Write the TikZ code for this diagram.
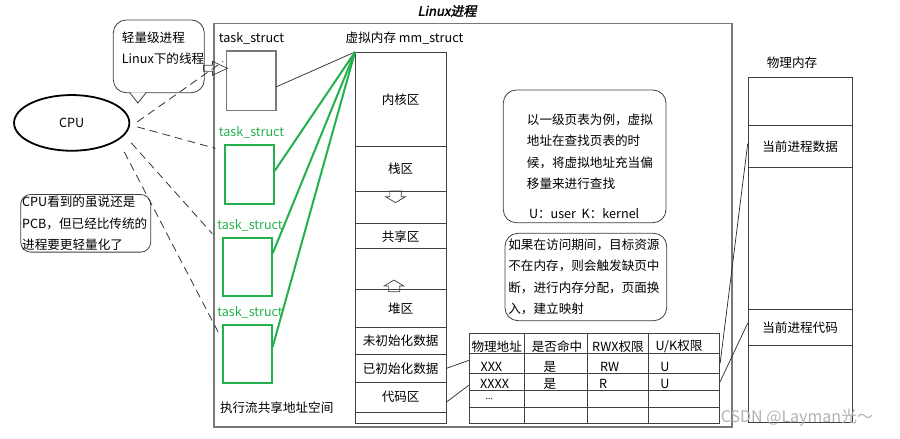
\documentclass[tikz,border=0pt]{standalone}
\usepackage{fontspec}
\setmainfont{Noto Sans CJK SC}
\newfontfamily\titlefont[FakeSlant=0.2,FakeBold=2]{Noto Sans CJK SC}
\usetikzlibrary{shapes.geometric,shapes.arrows}
\definecolor{tsgreen}{RGB}{34,177,76}
\definecolor{framegray}{RGB}{120,120,120}

\begin{document}
\begin{tikzpicture}[
    x=1pt, y=-1pt,
    font=\fontsize{12.6}{21.5}\selectfont,
    seg/.style={rectangle, draw=black!75, line width=0.8pt, inner sep=0pt,
                minimum width=90.5pt, anchor=north west},
    pseg/.style={rectangle, draw=black!75, line width=0.8pt, inner sep=0pt,
                 minimum width=104pt, anchor=north west},
    tabrow/.style={rectangle, draw=black!75, line width=0.8pt, inner sep=0pt,
                   minimum width=250.6pt, anchor=north west},
    tsbox/.style={rectangle, draw=tsgreen, line width=2pt, inner sep=0pt,
                  minimum width=48.4pt, minimum height=58.2pt},
    tslabel/.style={text=tsgreen, inner sep=0pt},
    notebox/.style={rectangle, draw=black!75, rounded corners=13pt,
                    line width=0.8pt, fill=white},
    cpulink/.style={dash pattern=on 8pt off 5pt, line width=0.8pt, black!80},
    sharelink/.style={tsgreen, line width=2pt},
    pagelink/.style={line width=0.7pt, black!85},
    hollowarrow/.style={single arrow, draw=black!75, line width=0.7pt,
                        inner xsep=0pt, single arrow head indent=0pt},
    growarrow/.style={hollowarrow, anchor=tail, minimum height=11.6pt,
                      inner ysep=5.3pt, single arrow head extend=4.2pt,
                      single arrow tip angle=118}
]
\useasboundingbox (0,0) rectangle (900,439);

% Linux process frame
\node[draw=framegray, line width=1.2pt, minimum width=518pt,
      minimum height=403.7pt, inner sep=0pt] (proc) at (473,225.15) {};
\node[font=\titlefont\fontsize{13}{15}\selectfont] (title) at (447,11) {Linux进程};

% Virtual memory mm_struct
\node (vmname) at (404.5,38) {虚拟内存 mm\_struct};
\node[seg, minimum height=370.5pt] (vmem) at (355,52) {};
\node[seg, minimum height=93.7pt] (kern) at (355,52) {内核区};
\node[seg, minimum height=45pt] (stack) at (355,145.7) {栈区};
\node[seg, minimum height=25pt] (shared) at (355,223.3) {共享区};
\node[seg, minimum height=37.2pt] (heap) at (355,289.3) {堆区};
\node[seg, minimum height=27.8pt] (bss) at (355,326.5) {未初始化数据};
\node[seg, minimum height=27.4pt] (data) at (355,354.3) {已初始化数据};
\node[seg, minimum height=30pt] (code) at (355,381.7) {代码区};
\node[growarrow, rotate=-90] (stackdir) at (395.5,190.7) {};
\node[growarrow, rotate=90] (heapdir) at (394,292) {};

% task_struct boxes
\node (t1name) at (251.5,38) {task\_struct};
\node[rectangle, draw=framegray, line width=1.2pt, inner sep=0pt,
      minimum width=49.3pt, minimum height=59.7pt] (t1) at (251.35,80.85) {};
\node[tslabel] (t2name) at (251.5,132.7) {task\_struct};
\node[tsbox] (t2) at (249.65,174.5) {};
\node[tslabel] (t3name) at (250,225) {task\_struct};
\node[tsbox] (t3) at (247.5,266.85) {};
\node[tslabel] (t4name) at (250,312.7) {task\_struct};
\node[tsbox] (t4) at (247.5,354.3) {};
\node (sharedas) at (276.7,407.3) {执行流共享地址空间};

\draw[pagelink] ([yshift=-5.85pt]t1.east) -- (vmem.north west);
\draw[sharelink] ([yshift=3.8pt]t2.east) -- (vmem.north west);
\draw[sharelink] ([yshift=13.5pt]t3.east) -- (vmem.north west);
\draw[sharelink] ([yshift=7.6pt]t4.east) -- (vmem.north west);

% Callout: lightweight process
\node[notebox, minimum width=91pt, minimum height=72.7pt] (lwpbox) at (158.8,56.35) {};
\path[draw=black!75, line width=0.8pt, fill=white]
    ([xshift=16.7pt,yshift=0.7pt]lwpbox.south west)
    -- ([xshift=25pt,yshift=-10pt]lwpbox.south west)
    -- ([xshift=33.4pt,yshift=0.7pt]lwpbox.south west);
\node[anchor=north west, align=left, inner sep=0pt] (lwptext) at (121.7,31.4)
    {轻量级进程\\Linux下的线程};
\node[hollowarrow, anchor=tip, minimum height=24pt, inner ysep=2.65pt,
      single arrow head extend=4pt, single arrow tip angle=50] (lwparrow) at (228.3,68.3) {};

% CPU
\node[ellipse, draw, line width=1.8pt, minimum width=115.3pt,
      minimum height=55.7pt, inner sep=0pt] (cpu) at (71.7,122.9) {CPU};
\node[notebox, rounded corners=10pt, text width=127pt, align=left,
      inner sep=1.5pt] (cpunote) at (85.7,223.3)
    {CPU看到的虽说还是\\PCB，但已经比传统的\\进程要更轻量化了};
\draw[cpulink] ([xshift=7pt,yshift=1pt]cpu.east) -- ([xshift=-3pt,yshift=-11pt]t1.north west);
\draw[cpulink] ([xshift=7pt,yshift=-4pt]cpu.east) -- ([xshift=-9pt,yshift=-4pt]t2.north west);
\draw[cpulink] ([xshift=1pt,yshift=-20pt]cpu.east) -- ([xshift=-10pt,yshift=3pt]t3.north west);
\draw[cpulink] ([xshift=-6pt,yshift=-29pt]cpu.east) -- ([xshift=-3pt,yshift=-10pt]t4.north west);

% Notes
\node[notebox, minimum width=162.7pt, minimum height=132.7pt] (pagebox) at (584.65,156.35) {};
\node[anchor=north west, align=left, inner sep=0pt] (pagetext) at (526.7,113.7)
    {以一级页表为例，虚拟\\地址在查找页表的时\\候，将虚拟地址充当偏\\移量来进行查找\\[7.8pt]
     \,U：user\ \ K：kernel};
\node[notebox, minimum width=161.7pt, minimum height=87.4pt, text width=155pt,
      align=left, inner xsep=2pt] (faultbox) at (585.85,277)
    {如果在访问期间，目标资源\\不在内存，则会触发缺页中\\断，进行内存分配，页面换\\入，建立映射};

% Page table
\node[tabrow, minimum height=20pt] (thead) at (468.7,333.3) {};
\node[tabrow, minimum height=19.4pt] (trow1) at (468.7,353.3) {};
\node[tabrow, minimum height=17.3pt] (trow2) at (468.7,372.7) {};
\node[tabrow, minimum height=16.7pt] (trow3) at (468.7,390) {};
\node[tabrow, minimum height=16.6pt] (trow4) at (468.7,406.7) {};
\foreach \x in {524.3,587.3,648.7}
    \draw[black!75, line width=0.8pt] (\x,333.3) -- (\x,423.3);
\foreach \x/\t [count=\i] in {496.7/物理地址, 557/是否命中, 618/RWX权限, 679/{U/K权限}}
    \node (hd\i) at (\x,346.7) {\t};
\node[anchor=west] (c11) at (477,366.5) {XXX};
\node (c12) at (550,367) {是};
\node[anchor=west] (c13) at (596.5,366.5) {RW};
\node (c14) at (665,366.5) {U};
\node[anchor=west] (c21) at (476.7,384) {XXXX};
\node (c22) at (550,383.5) {是};
\node (c23) at (603,384) {R};
\node (c24) at (665,384) {U};
\node[anchor=west, font=\fontsize{9}{10}\selectfont] (c31) at (482,399) {...};

\draw[pagelink] (data.east) -- ([yshift=3pt]trow1.west);
\draw[pagelink] ([yshift=-5pt]code.east) -- ([yshift=-3.6pt]trow2.west);

% Physical memory
\node (pmname) at (792,63) {物理内存};
\node[pseg, minimum height=344.7pt] (pmem) at (747.7,77.3) {};
\node[pseg, minimum height=42pt] (pdata) at (747.7,125) {当前进程数据};
\node[pseg, minimum height=36pt] (pcode) at (747.7,309) {当前进程代码};
\draw[pagelink] (trow1.east) -- ([yshift=2.7pt]pdata.west);
\draw[pagelink] (trow2.east) -- ([yshift=4.3pt]pcode.west);

\node[text=black!30, font=\fontsize{16}{18}\selectfont] (mark) at (797,418) {CSDN @Layman光～};
\end{tikzpicture}
\end{document}
